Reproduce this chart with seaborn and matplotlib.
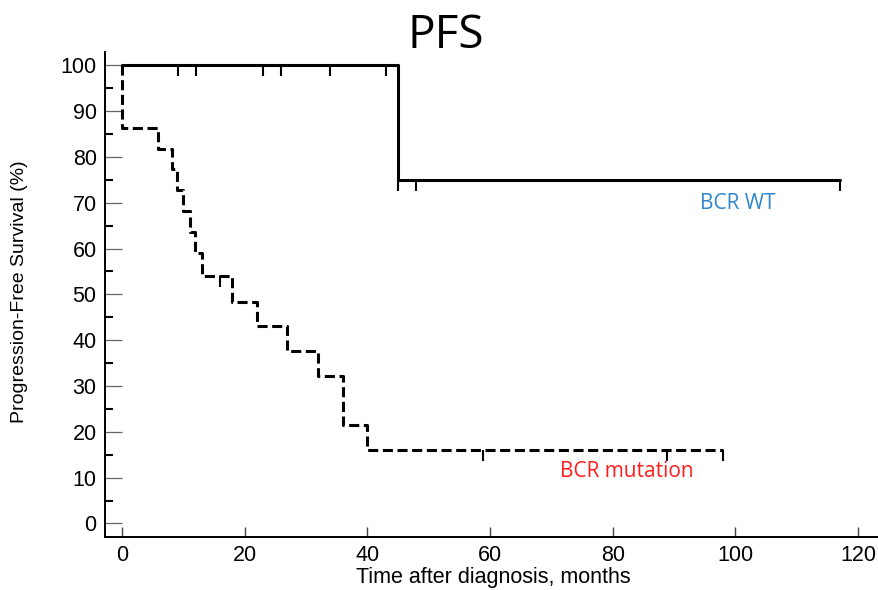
import matplotlib
matplotlib.use("Agg")
import matplotlib.pyplot as plt
import seaborn as sns
import pandas as pd
from matplotlib.ticker import MultipleLocator

# Kaplan-Meier step curves (time in months, survival in %)
wt_time = [0, 45.0, 117.0]
wt_surv = [100, 75.0, 75.0]
wt_censor_time = [9.1, 12.0, 23.0, 26.0, 33.9, 43.0, 45.0, 47.9, 117.0]
wt_censor_surv = [100, 100, 100, 100, 100, 100, 75.0, 75.0, 75.0]

mut_time = [0, 0, 5.9, 8.1, 8.9, 10.0, 11.1, 11.9, 13.0, 17.9, 22.0, 26.9, 31.9, 36.0, 40.0, 98.0]
mut_surv = [100, 86.4, 81.8, 77.3, 72.7, 68.2, 63.6, 59.1, 54.0, 48.4, 43.0, 37.7, 32.2, 21.5, 16.1, 16.1]
mut_censor_time = [16.0, 58.9, 88.9, 98.0]
mut_censor_surv = [54.0, 16.1, 16.1, 16.1]

x_ticks = [0, 20, 40, 60, 80, 100, 120]
y_ticks = [0, 10, 20, 30, 40, 50, 60, 70, 80, 90, 100]

title_text = "PFS"
x_label = "Time after diagnosis, months"
y_label = "Progression-Free Survival (%)"
wt_label = "BCR WT"
mut_label = "BCR mutation"

sns.set_style("white")
plt.rcParams["font.family"] = ["Liberation Sans", "DejaVu Sans"]
plt.rcParams["text.color"] = "black"

wt_df = pd.DataFrame({"time": wt_time, "surv": wt_surv})
mut_df = pd.DataFrame({"time": mut_time, "surv": mut_surv})
wt_cens = pd.DataFrame({"time": wt_censor_time, "surv": wt_censor_surv})
mut_cens = pd.DataFrame({"time": mut_censor_time, "surv": mut_censor_surv})

fig = plt.figure(figsize=(8.79, 5.90), dpi=100)
ax = fig.add_axes([105 / 879, 1 - 537 / 590, (879 - 105) / 879, (537 - 52) / 590])

sns.lineplot(data=mut_df, x="time", y="surv", ax=ax, estimator=None, sort=False,
             drawstyle="steps-post", color="black", linewidth=2.2,
             linestyle=(0, (3.3, 1.5)), zorder=3)
sns.lineplot(data=wt_df, x="time", y="surv", ax=ax, estimator=None, sort=False,
             drawstyle="steps-post", color="black", linewidth=2.2, zorder=4)

# censoring marks hang below each curve
for cdf in (wt_cens, mut_cens):
    sns.scatterplot(data=cdf, x="time", y="surv", ax=ax, marker=3, s=60,
                    color="black", linewidth=1.5, zorder=5)

ax.set_xlim(-2.77, 123.4)
ax.set_ylim(-2.95, 102.9)
ax.set_xticks(x_ticks)
ax.set_yticks(y_ticks)
ax.yaxis.set_minor_locator(MultipleLocator(5))
ax.tick_params(axis="x", which="major", direction="in", length=7, width=1,
               color="#444444", labelcolor="black", labelsize=15.5, pad=6, bottom=True)
ax.tick_params(axis="y", which="major", direction="in", length=12, width=0.9,
               color="#666666", labelcolor="black", labelsize=15.5, pad=6, left=True)
ax.tick_params(axis="y", which="minor", direction="in", length=6, width=1.5,
               color="black", left=True)
ax.set_xlabel("")
ax.set_ylabel("")
for side in ("top", "right"):
    ax.spines[side].set_visible(False)
for side in ("left", "bottom"):
    ax.spines[side].set_color("black")
    ax.spines[side].set_linewidth(1.4)

ax.text(94.2, 69.9, wt_label, color="#2F86CC", fontsize=15,
        family=["Open Sans", "DejaVu Sans"], va="center", ha="left")
ax.text(71.4, 11.4, mut_label, color="#FF1E1E", fontsize=15,
        family=["Open Sans", "DejaVu Sans"], va="center", ha="left")

fig.text(445.5 / 879, 1 - 48 / 590, title_text, fontsize=33, ha="center",
         va="baseline", color="black", family=["Open Sans", "DejaVu Sans"])
fig.text(493 / 879, 2 / 590, x_label, fontsize=15.5, ha="center", va="bottom",
         color="black")
fig.text(20 / 879, 0.505, y_label, fontsize=14, ha="center", va="center",
         rotation=90, color="black")

fig.savefig("out.png", dpi=100)
